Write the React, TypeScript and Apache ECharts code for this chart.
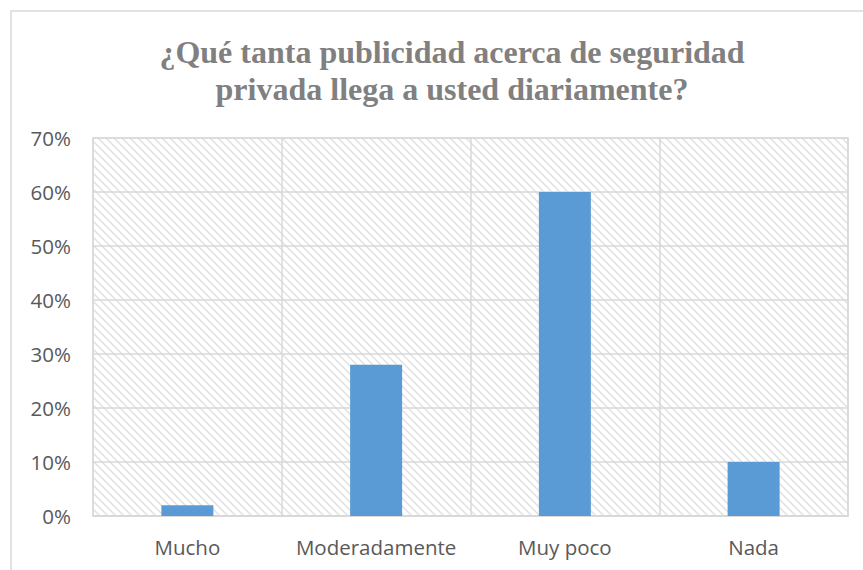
import React, { useEffect, useRef } from "react";
import * as echarts from "echarts";

const titleLines = ["¿Qué tanta publicidad acerca de seguridad", "privada llega a usted diariamente?"];
const categories = ["Mucho", "Moderadamente", "Muy poco", "Nada"];
const values = [0.02, 0.28, 0.6, 0.1];
const yTicks = [0, 0.1, 0.2, 0.3, 0.4, 0.5, 0.6, 0.7];

function makeHatch(): HTMLCanvasElement {
  const s = 8;
  const c = document.createElement("canvas");
  c.width = s;
  c.height = s;
  const ctx = c.getContext("2d")!;
  ctx.fillStyle = "#ffffff";
  ctx.fillRect(0, 0, s, s);
  ctx.strokeStyle = "#e0e0e0";
  ctx.lineWidth = 1.4;
  const segs = [
    [-2, -2, s + 2, s + 2],
    [-2, s - 2, 2, s + 2],
    [s - 2, -2, s + 2, 2],
  ];
  for (const [x1, y1, x2, y2] of segs) {
    ctx.beginPath();
    ctx.moveTo(x1, y1);
    ctx.lineTo(x2, y2);
    ctx.stroke();
  }
  return c;
}

export default function App() {
  const ref = useRef<HTMLDivElement>(null);
  useEffect(() => {
    const chart = echarts.init(ref.current!, null, { renderer: "svg" });
    const hatch = makeHatch();
    chart.setOption({
      animation: false,
      backgroundColor: "#ffffff",
      title: {
        text: titleLines.join("\n"),
        left: 447,
        top: 28,
        textAlign: "center",
        textStyle: {
          fontFamily: "Liberation Serif",
          fontWeight: "bold",
          fontSize: 32,
          color: "#808080",
          lineHeight: 37,
        },
      },
      graphic: [
        {
          type: "rect",
          shape: { x: 11, y: 11, width: 1000, height: 700 },
          style: { fill: "none", stroke: "#d9d9d9", lineWidth: 1.5 },
          z: -10,
          silent: true,
        },
      ],
      grid: {
        left: 93,
        top: 138,
        right: 15,
        bottom: 54,
        show: true,
        backgroundColor: { image: hatch, repeat: "repeat", imageWidth: 8, imageHeight: 8 },
        borderColor: "#d9d9d9",
        borderWidth: 1.5,
      },
      xAxis: {
        type: "category",
        data: categories,
        boundaryGap: true,
        axisLine: { show: true, lineStyle: { color: "#d9d9d9", width: 1.5 } },
        axisTick: { show: false },
        splitLine: { show: true, interval: 0, lineStyle: { color: "#d9d9d9", width: 1.5 } },
        axisLabel: {
          interval: 0,
          color: "#595959",
          fontFamily: "Open Sans",
          fontSize: 20.5,
          margin: 20,
        },
      },
      yAxis: {
        type: "value",
        min: 0,
        max: yTicks[yTicks.length - 1],
        interval: 0.1,
        axisLine: { show: false },
        axisTick: { show: false },
        splitLine: { show: true, lineStyle: { color: "#d9d9d9", width: 1.5 } },
        axisLabel: {
          color: "#595959",
          fontFamily: "Open Sans",
          fontSize: 20.5,
          margin: 22,
          formatter: (v: number) => Math.round(v * 100) + "%",
        },
      },
      series: [
        {
          type: "bar",
          data: values,
          barWidth: 52,
          itemStyle: { color: "#5b9bd5" },
        },
      ],
    });
    return () => chart.dispose();
  }, []);
  return (
    <div
      ref={ref}
      style={{ position: "fixed", left: 0, top: 0, width: 863, height: 570 }}
    />
  );
}
